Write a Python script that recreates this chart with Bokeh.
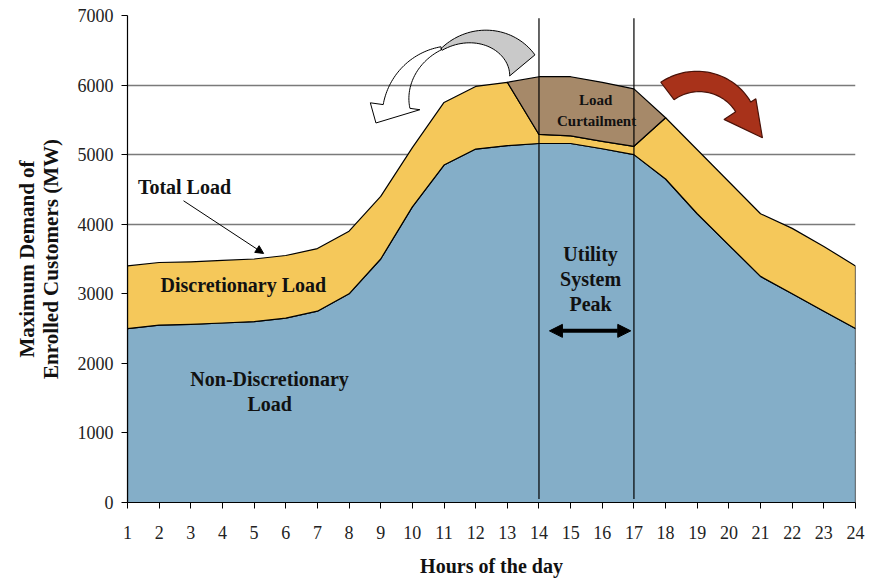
import numpy as np
from bokeh.plotting import figure
from bokeh.models import Range1d, FixedTicker, Arrow, NormalHead
from bokeh.core.properties import value
from bokeh.embed import file_html
from bokeh.resources import INLINE

# ---------------- data ----------------
hours = list(range(1, 25))
non_discretionary = [2500, 2550, 2560, 2580, 2600, 2650, 2750, 3000, 3500, 4250, 4850, 5080,
                     5130, 5160, 5160, 5085, 5000, 4650, 4150, 3700, 3250, 3000, 2750, 2500]
total_load = [3400, 3450, 3460, 3480, 3500, 3550, 3650, 3900, 4400, 5100, 5750, 5980,
              6040, 6120, 6120, 6040, 5945, 5530, 5070, 4610, 4150, 3940, 3680, 3400]
peak_hours = [14, 15, 16, 17]
curtailed_peak = [5290, 5270, 5190, 5120]
peak_bounds = [14, 17]
y_ticks = [0, 1000, 2000, 3000, 4000, 5000, 6000, 7000]

# derived series
curtailed_total = list(total_load)
for h, v in zip(peak_hours, curtailed_peak):
    curtailed_total[hours.index(h)] = v

BLUE = "#84AEC8"
YELLOW = "#F5C85A"
BROWN = "#A68969"
SERIF = "Liberation Serif"

p = figure(width=872, height=579, output_backend="svg", toolbar_location=None,
           x_range=Range1d(1, 24), y_range=Range1d(0, 7000))
p.min_border_left = 127
p.min_border_right = 17
p.min_border_top = 15
p.min_border_bottom = 73
p.outline_line_color = None
p.background_fill_color = "white"
p.border_fill_color = "white"

# grid
p.xgrid.grid_line_color = None
p.ygrid.ticker = FixedTicker(ticks=y_ticks)
p.ygrid.grid_line_color = "#7a7a7a"
p.ygrid.grid_line_width = 1.3

# axes
p.xaxis.ticker = FixedTicker(ticks=hours)
p.yaxis.ticker = FixedTicker(ticks=y_ticks)
for ax in (p.xaxis, p.yaxis):
    ax.axis_line_color = "black"
    ax.axis_line_width = 1.2
    ax.major_tick_line_color = "black"
    ax.major_tick_out = 6
    ax.major_tick_in = 0
    ax.minor_tick_line_color = None
    ax.major_label_text_font = SERIF
    ax.major_label_text_font_size = "18px"
    ax.major_label_text_color = "#222222"
    ax.axis_label_text_font = SERIF
    ax.axis_label_text_font_style = "bold"
    ax.axis_label_text_color = "#111111"
    ax.axis_label_text_line_height = 1.0
p.xaxis.axis_label = "Hours of the day"
p.xaxis.axis_label_text_font_size = "20px"
p.xaxis.major_label_standoff = 17
p.xaxis.axis_label_standoff = 13
p.yaxis.axis_label = "Maximum Demand of\nEnrolled Customers (MW)"
p.yaxis.axis_label_text_font_size = "21px"
p.yaxis.major_label_standoff = 8
p.yaxis.axis_label_standoff = 12

# ---------------- areas ----------------
# non-discretionary (blue)
bx = [hours[0]] + hours + [hours[-1]]
by = [0] + non_discretionary + [0]
p.patch(bx, by, fill_color=BLUE, line_color="black", line_width=1.2, line_join="round")

# discretionary (yellow) between non-discretionary and curtailed total
yx = hours + hours[::-1]
yy = curtailed_total + non_discretionary[::-1]
p.patch(yx, yy, fill_color=YELLOW, line_color="black", line_width=1.2, line_join="round")

# load curtailment (brown)
i0 = hours.index(peak_hours[0]) - 1
i1 = hours.index(peak_hours[-1]) + 1
cx_ = hours[i0:i1 + 1] + peak_hours[::-1]
cy_ = total_load[i0:i1 + 1] + curtailed_peak[::-1]
p.patch(cx_, cy_, fill_color=BROWN, line_color="black", line_width=1.2, line_join="round")

# system peak boundaries
p.segment(x0=peak_bounds, y0=[50, 50], x1=peak_bounds, y1=[6960, 6960],
          line_color="black", line_width=1.2)

# ---------------- curved arrows (decoration) ----------------
def px_to_data(px, py):
    X = 1 + (np.asarray(px) - 127) * 23.0 / 728.0
    Y = (506 - np.asarray(py)) * 7000.0 / 491.0
    return X, Y

def curved(cx, cy, a0, a1, ro0, ro1, ri0, ri1, head=None, n=40):
    a = np.radians(np.linspace(a0, a1, n))
    ro = np.linspace(ro0, ro1, n)
    ri = np.linspace(ri0, ri1, n)
    ox, oy = cx + ro * np.cos(a), cy - ro * np.sin(a)
    ix, iy = cx + ri * np.cos(a), cy - ri * np.sin(a)
    xs, ys = list(ox), list(oy)
    if head is not None:
        hr_out, hr_in, ta, tr = head
        aa = np.radians(a1)
        tt = np.radians(ta)
        xs += [cx + hr_out * np.cos(aa), cx + tr * np.cos(tt), cx + hr_in * np.cos(aa)]
        ys += [cy - hr_out * np.sin(aa), cy - tr * np.sin(tt), cy - hr_in * np.sin(aa)]
    xs += list(ix[::-1])
    ys += list(iy[::-1])
    return px_to_data(xs, ys)

gx, gy = curved(490, 92, 40, 139, 58, 66, 25, 64)
p.patch(list(gx), list(gy), fill_color="#C9C9C9", line_color="black", line_width=1)

wx, wy = curved(455, 115, 102, 172, 70, 73, 67, 46, head=(86, 36, 186, 80))
p.patch(list(wx), list(wy), fill_color=None, line_color="black", line_width=1)

rx, ry = curved(700, 135, 127, 33, 66, 60, 44, 42, head=(66, 28, -3, 62))
p.patch(list(rx), list(ry), fill_color="#A8321A", line_color="#4a1208", line_width=1.2)

# ---------------- straight arrows ----------------
p.add_layout(Arrow(start=NormalHead(size=13, fill_color="black", line_color="black"),
                   end=NormalHead(size=13, fill_color="black", line_color="black"),
                   x_start=peak_bounds[0] + 0.33, y_start=2467,
                   x_end=peak_bounds[1] - 0.1, y_end=2467,
                   line_width=4, line_color="black"))
p.add_layout(Arrow(end=NormalHead(size=8, fill_color="black", line_color="black"),
                   x_start=2.77, y_start=4337, x_end=5.3, y_end=3580,
                   line_width=1, line_color="black"))

# ---------------- annotations ----------------
labels = [
    ("Total Load", 2.80, 4534, "20px"),
    ("Discretionary Load", 4.66, 3122, "20px"),
    ("Non-Discretionary", 5.49, 1768, "20px"),
    ("Load", 5.49, 1411, "20px"),
    ("Utility", 15.63, 3579, "20px"),
    ("System", 15.63, 3208, "20px"),
    ("Peak", 15.63, 2851, "20px"),
    ("Load", 15.79, 5788, "15px"),
    ("Curtailment", 15.82, 5489, "15px"),
]
for t, x, y, fs in labels:
    p.text(x=[x], y=[y], text=[t], text_font=value(SERIF), text_font_style="bold",
           text_font_size=fs, text_color="#111111", text_align="center",
           text_baseline="middle")

open("out.html", "w").write(file_html(p, INLINE))
